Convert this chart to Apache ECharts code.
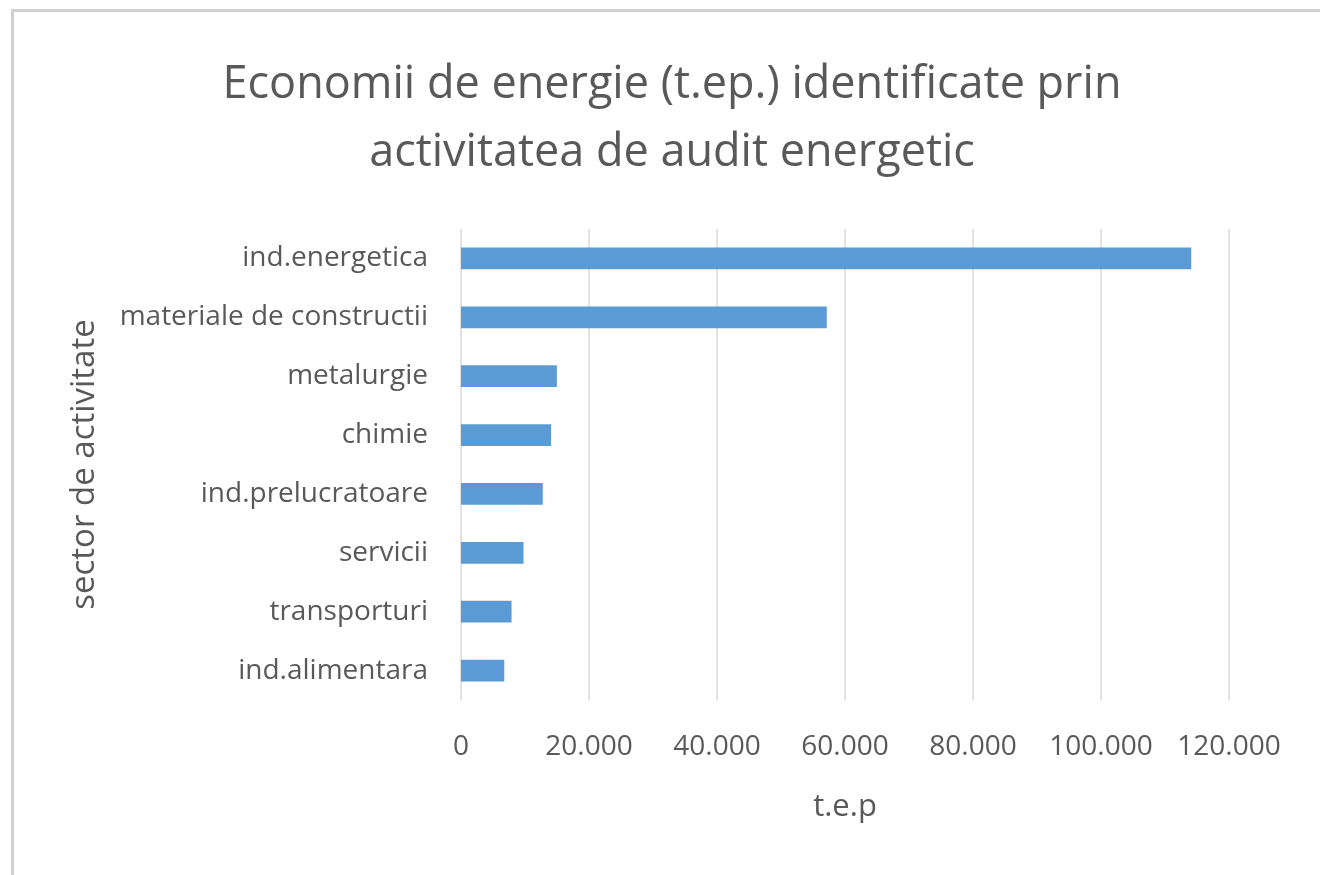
<!DOCTYPE html>
<html>
<head>
<meta charset="utf-8">
<script src="https://cdn.jsdelivr.net/npm/echarts@6/dist/echarts.min.js"></script>
<style>
  html, body { margin: 0; padding: 0; background: #fff; }
  #chart { width: 1320px; height: 875px; }
</style>
</head>
<body>
<div id="chart"></div>
<script>
// sectors, top to bottom as in the original
var sectors = ['ind.energetica', 'materiale de constructii', 'metalurgie', 'chimie',
    'ind.prelucratoare', 'servicii', 'transporturi', 'ind.alimentara'];
var savings = [114100, 57150, 14980, 14080, 12780, 9770, 7900, 6760];
var titleLines = ['Economii de energie (t.ep.) identificate prin', 'activitatea de audit energetic'];

var font = "'Open Sans', sans-serif";
var textColor = '#595959';

var myChart = echarts.init(document.getElementById('chart'));

function fmt(v) {
    // thousands with a dot, like the source
    return String(v).replace(/\B(?=(\d{3})+(?!\d))/g, '.');
}

var option = {
    backgroundColor: '#fff',
    animation: false,
    textStyle: { fontFamily: font },
    title: {
        text: titleLines.join('\n'),
        left: 667,
        textAlign: 'center',
        top: 46,
        textStyle: {
            fontFamily: font,
            fontSize: 45,
            fontWeight: 'normal',
            color: textColor,
            lineHeight: 68
        }
    },
    graphic: [{
        type: 'rect',
        shape: { x: 12.5, y: 10.5, width: 1330, height: 900 },
        style: { fill: 'none', stroke: '#d0d0d0', lineWidth: 3 },
        silent: true
    }],
    grid: { left: 461, right: 91, top: 229, bottom: 175 },
    xAxis: {
        type: 'value',
        min: 0,
        max: 120000,
        interval: 20000,
        name: 't.e.p',
        nameLocation: 'middle',
        nameGap: 92,
        nameTextStyle: { fontFamily: font, fontSize: 31, color: textColor },
        axisLine: { show: false },
        axisTick: { show: false },
        axisLabel: {
            formatter: fmt,
            margin: 33,
            fontFamily: font,
            fontSize: 28,
            color: textColor
        },
        splitLine: { lineStyle: { color: '#d9d9d9', width: 1.5 } }
    },
    yAxis: {
        type: 'category',
        data: sectors,
        inverse: true,
        name: 'sector de activitate',
        nameLocation: 'middle',
        nameGap: 360,
        nameTextStyle: { fontFamily: font, fontSize: 33, color: textColor },
        axisLine: { show: false },
        axisTick: { show: false },
        axisLabel: {
            margin: 33,
            fontFamily: font,
            fontSize: 28,
            color: textColor
        }
    },
    series: [{
        type: 'bar',
        data: savings,
        barWidth: '37%',
        itemStyle: { color: '#5B9BD5' }
    }]
};

myChart.setOption(option);
</script>
</body>
</html>
